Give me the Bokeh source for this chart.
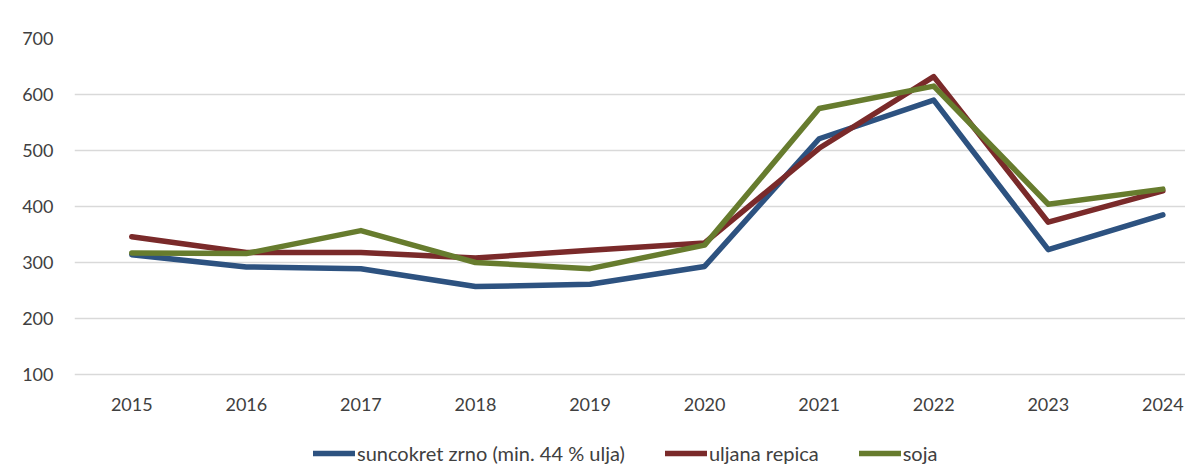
from bokeh.plotting import figure
from bokeh.models import Legend, LegendItem, FixedTicker, Range1d, LabelSet, ColumnDataSource
from bokeh.core.properties import value
from bokeh.embed import file_html
from bokeh.resources import INLINE

years = [2015, 2016, 2017, 2018, 2019, 2020, 2021, 2022, 2023, 2024]
suncokret = [314, 292, 289, 257, 261, 293, 521, 590, 323, 385]
uljana_repica = [346, 318, 318, 308, 322, 335, 504, 632, 372, 428]
soja = [317, 316, 357, 300, 289, 331, 575, 615, 404, 431]
series_names = ["suncokret zrno (min. 44 % ulja)", "uljana repica", "soja"]
colors = ["#2d5280", "#7a2a2a", "#677c2e"]
y_ticks = [100, 200, 300, 400, 500, 600, 700]
x_tick_labels = [str(y) for y in years]

FONT = "Lato"
TXT = "#404040"

# layout (pixels)
W, H = 1185, 466
LEFT, TOP = 74, 38
AXIS_PX = 336            # pixels between y=100 and y=700
Y_MIN, Y_MAX = 100, 700
px_per_unit = AXIS_PX / (Y_MAX - Y_MIN)
below_px = H - TOP - AXIS_PX
y_start = Y_MIN - below_px / px_per_unit
x_px_per_year = 114.56
x_end = 2014.5 + (W - LEFT) / x_px_per_year

p = figure(width=W, height=H, output_backend="svg", toolbar_location=None,
           x_axis_type=None,
           x_range=Range1d(2014.5, x_end), y_range=Range1d(y_start, Y_MAX),
           min_border_left=LEFT, min_border_right=0, min_border_top=TOP, min_border_bottom=0)
p.outline_line_color = None
p.background_fill_color = "white"
p.border_fill_color = "white"

p.ygrid.grid_line_color = "#d9d9d9"
p.ygrid.grid_line_width = 1.4
p.ygrid.ticker = FixedTicker(ticks=y_ticks)

p.yaxis.ticker = FixedTicker(ticks=y_ticks)
ax = p.yaxis[0]
ax.axis_line_color = None
ax.major_tick_line_color = None
ax.minor_tick_line_color = None
ax.major_tick_out = 0
ax.major_tick_in = 0
ax.major_label_text_font = FONT
ax.major_label_text_font_size = "18px"
ax.major_label_text_color = TXT
ax.major_label_standoff = 21

# category labels under the y=100 line
label_y = Y_MIN - 30 / px_per_unit
lab_src = ColumnDataSource(dict(x=years, y=[label_y] * len(years), t=x_tick_labels))
p.add_layout(LabelSet(x="x", y="y", text="t", source=lab_src,
                      text_align="center", text_baseline="middle",
                      text_font=value(FONT), text_font_size=value("18px"),
                      text_color=value(TXT)))

renderers = []
for vals, c in zip([suncokret, uljana_repica, soja], colors):
    r = p.line(years, vals, line_color=c, line_width=5.5, line_join="round", line_cap="round")
    renderers.append(r)

legend = Legend(items=[LegendItem(label=n, renderers=[r]) for n, r in zip(series_names, renderers)],
                orientation="horizontal", location=(239, 1),
                glyph_width=42, glyph_height=18, label_standoff=2, spacing=40,
                padding=0, margin=0, border_line_color=None, background_fill_alpha=0,
                label_text_font=FONT, label_text_font_size="20px", label_text_color=TXT)
p.add_layout(legend, "center")

open("out.html", "w").write(file_html(p, INLINE))
